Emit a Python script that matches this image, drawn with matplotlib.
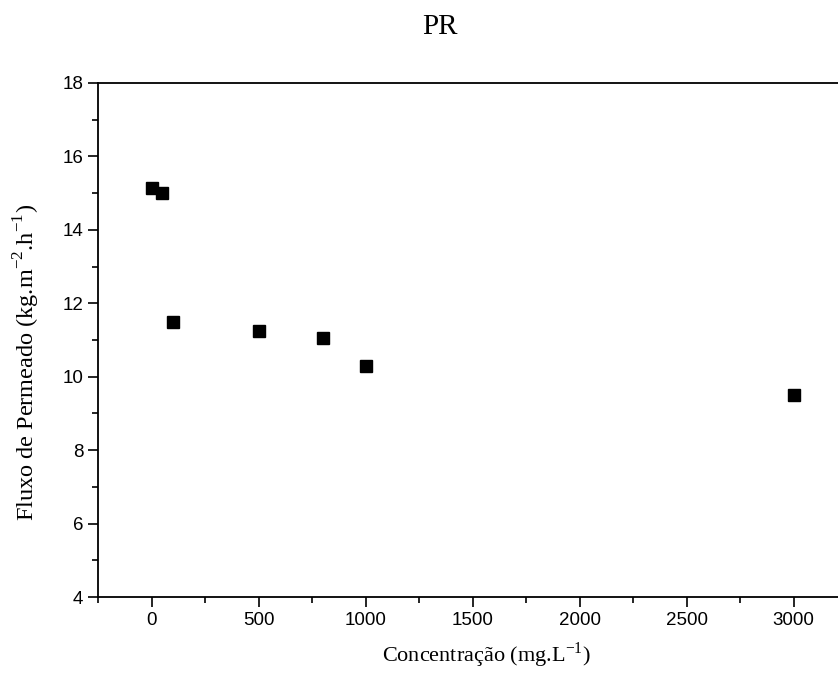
import matplotlib
matplotlib.use("Agg")
import matplotlib.pyplot as plt
from matplotlib.ticker import MultipleLocator

# data
concentracao = [0, 50, 100, 500, 800, 1000, 3000]
fluxo = [15.15, 15.0, 11.5, 11.25, 11.05, 10.3, 9.5]

fig = plt.figure(figsize=(8.38, 6.8), dpi=100)
# axes run a bit past the right edge, like the cropped original
ax = fig.add_axes([0.117, 0.122, 0.894, 0.756])

ax.plot(concentracao, fluxo, linestyle="none", marker="s", markersize=8.5,
        color="black")

ax.set_xlim(-250, 3250)
ax.set_ylim(4, 18)
ax.xaxis.set_major_locator(MultipleLocator(500))
ax.xaxis.set_minor_locator(MultipleLocator(250))
ax.yaxis.set_major_locator(MultipleLocator(2))
ax.yaxis.set_minor_locator(MultipleLocator(1))

ax.tick_params(which="both", direction="out", top=False, right=False,
               width=1.2, labelsize=13.5)
ax.tick_params(which="major", length=7)
ax.tick_params(which="minor", length=4)
for lab in ax.get_xticklabels() + ax.get_yticklabels():
    lab.set_family("Liberation Sans")

for sp in ax.spines.values():
    sp.set_linewidth(1.3)

serif = "Liberation Serif"
ax.set_xlabel(r"Concentração (mg.L$^{\mathregular{-1}}$)", family=serif,
              fontsize=16)
ax.xaxis.set_label_coords(0.518, -0.085)
ax.set_ylabel(r"Fluxo de Permeado (kg.m$^{\mathregular{-2}}$.h$^{\mathregular{-1}}$)",
              family=serif, fontsize=17.5)
ax.yaxis.set_label_coords(-0.075, 0.457)
fig.text(0.525, 0.96, "PR", family=serif, fontsize=21, ha="center", va="center")

fig.savefig("out.png", dpi=100)
